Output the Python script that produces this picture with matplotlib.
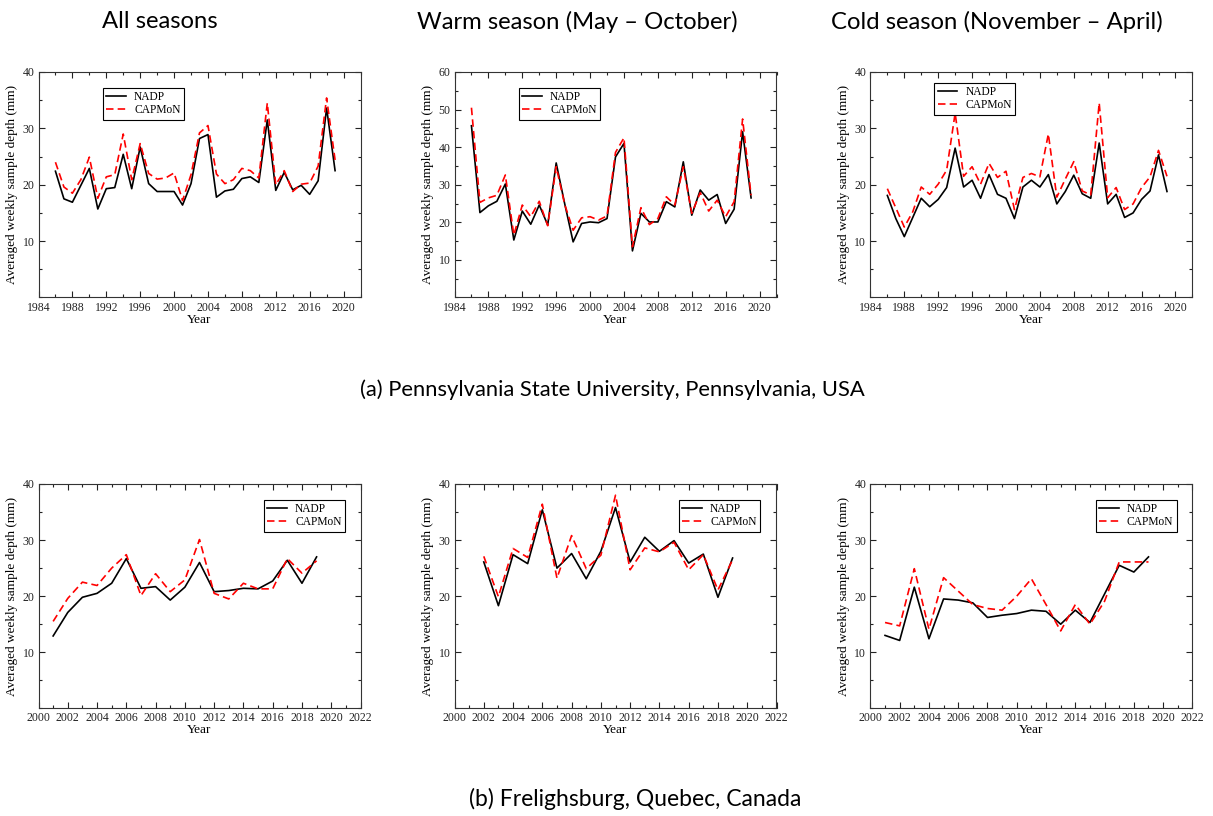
import matplotlib
matplotlib.use("Agg")
import matplotlib.pyplot as plt
from matplotlib.ticker import MultipleLocator

# ---------------- data ----------------
years_a = list(range(1986, 2020))
years_b_all = list(range(2001, 2020))
years_b_warm = list(range(2002, 2020))
years_b_cold = list(range(2001, 2020))

a_all_nadp = [22.4, 17.5, 16.9, 19.9, 22.9, 15.7, 19.3, 19.5, 25.4, 19.3, 26.7, 20.2,
              18.8, 18.8, 18.8, 16.4, 20.2, 28.2, 28.9, 17.8, 18.9, 19.2, 21.1, 21.4,
              20.4, 31.5, 19.0, 22.2, 19.1, 19.9, 18.3, 20.7, 33.6, 22.5]
a_all_capmon = [24.0, 19.6, 18.5, 20.9, 24.9, 17.6, 21.4, 21.8, 29.0, 20.9, 27.3, 22.0,
                21.0, 21.2, 22.1, 17.2, 21.8, 29.2, 30.5, 21.9, 20.2, 20.9, 22.9, 22.5,
                21.2, 34.5, 20.0, 22.5, 18.8, 20.1, 20.3, 23.3, 35.4, 24.4]

a_warm_nadp = [45.7, 22.6, 24.4, 25.6, 30.2, 15.3, 23.0, 19.5, 24.6, 19.3, 35.8, 25.0,
               14.8, 19.7, 20.1, 19.9, 21.0, 37.4, 41.0, 12.4, 22.4, 20.1, 20.1, 25.5,
               24.1, 36.1, 21.9, 28.6, 25.9, 27.4, 19.7, 23.5, 44.1, 26.5]
a_warm_capmon = [50.5, 25.3, 26.5, 27.2, 32.6, 16.6, 24.6, 21.5, 25.6, 19.1, 34.8, 24.8,
                 17.9, 21.2, 21.5, 20.6, 21.7, 38.6, 42.5, 13.5, 23.9, 19.4, 21.0, 26.8,
                 24.6, 34.8, 22.4, 27.9, 23.0, 25.9, 21.5, 25.5, 47.5, 27.2]

a_cold_nadp = [18.1, 14.0, 10.8, 14.2, 17.6, 16.1, 17.4, 19.5, 26.5, 19.6, 20.8, 17.6,
               21.8, 18.3, 17.6, 14.0, 19.6, 20.8, 19.6, 21.8, 16.6, 18.8, 21.7, 18.4,
               17.6, 27.4, 16.6, 18.3, 14.2, 15.0, 17.4, 18.9, 25.3, 18.8]
a_cold_capmon = [19.3, 15.9, 12.5, 15.2, 19.6, 18.3, 20.1, 22.6, 32.7, 21.5, 23.2, 20.1,
                 23.8, 21.3, 22.4, 15.6, 21.3, 22.0, 21.4, 29.0, 17.8, 21.0, 24.1, 18.9,
                 18.2, 34.5, 17.7, 19.5, 15.6, 16.6, 19.5, 21.4, 26.1, 21.5]

b_all_nadp = [12.9, 17.1, 19.8, 20.5, 22.3, 26.7, 21.4, 21.7, 19.3, 21.6, 26.0, 20.8,
              21.0, 21.4, 21.3, 22.7, 26.4, 22.3, 27.0]
b_all_capmon = [15.5, 19.6, 22.5, 21.9, 25.0, 27.4, 20.1, 24.0, 20.8, 22.9, 30.1, 20.5,
                19.5, 22.3, 21.3, 21.3, 26.7, 24.1, 26.3]

b_warm_nadp = [26.1, 18.3, 27.4, 25.8, 35.4, 25.0, 27.6, 23.1, 28.0, 35.8, 26.1, 30.5,
               28.0, 29.9, 25.9, 27.5, 19.8, 26.8]
b_warm_capmon = [27.1, 19.9, 28.5, 26.9, 36.4, 23.2, 30.8, 24.9, 27.3, 38.0, 24.7, 28.6,
                 27.9, 29.6, 24.7, 27.4, 21.1, 26.5]

b_cold_nadp = [13.0, 12.1, 21.6, 12.4, 19.5, 19.3, 18.8, 16.2, 16.6, 16.9, 17.5, 17.3,
               15.0, 17.5, 15.3, 20.4, 25.5, 24.3, 27.0]
b_cold_capmon = [15.3, 14.7, 24.9, 14.1, 23.3, 20.9, 18.5, 17.8, 17.5, 20.0, 23.1, 18.5,
                 13.8, 18.5, 15.0, 19.1, 26.1, 26.1, 26.1]

col_titles = ["All seasons", "Warm season (May \u2013 October)", "Cold season (November \u2013 April)"]
row_captions = ["(a) Pennsylvania State University, Pennsylvania, USA",
                "(b) Frelighsburg, Quebec, Canada"]
series_labels = ["NADP", "CAPMoN"]
ylabel = "Averaged weekly sample depth (mm)"
xlabel = "Year"

# ---------------- layout ----------------
W, H = 1213, 816
fig = plt.figure(figsize=(W / 100, H / 100), dpi=100)

serif = ["Liberation Serif", "DejaVu Serif"]
sans = ["Lato", "Open Sans", "DejaVu Sans"]

lefts = [38.5, 454.5, 870.4]
aw = 322
rows = [(72, 297.5), (484, 708.3)]

panels = [
    dict(x=years_a, n=a_all_nadp, c=a_all_capmon, ylim=(0, 40), xlim=(1984, 2022), xmaj=4, leg=(0.2, 0.93)),
    dict(x=years_a, n=a_warm_nadp, c=a_warm_capmon, ylim=(0, 60), xlim=(1984, 2022), xmaj=4, leg=(0.2, 0.93)),
    dict(x=years_a, n=a_cold_nadp, c=a_cold_capmon, ylim=(0, 40), xlim=(1984, 2022), xmaj=4, leg=(0.198, 0.952)),
    dict(x=years_b_all, n=b_all_nadp, c=b_all_capmon, ylim=(0, 40), xlim=(2000, 2022), xmaj=2, leg=(0.70, 0.93)),
    dict(x=years_b_warm, n=b_warm_nadp, c=b_warm_capmon, ylim=(0, 40), xlim=(2000, 2022), xmaj=2, leg=(0.697, 0.93)),
    dict(x=years_b_cold, n=b_cold_nadp, c=b_cold_capmon, ylim=(0, 40), xlim=(2000, 2022), xmaj=2, leg=(0.70, 0.93)),
]

for i, p in enumerate(panels):
    r, c = divmod(i, 3)
    top, bot = rows[r]
    ax = fig.add_axes([lefts[c] / W, 1 - bot / H, aw / W, (bot - top) / H])
    ax.plot(p["x"], p["n"], color="black", lw=1.2, label=series_labels[0])
    ax.plot(p["x"], p["c"], color="red", lw=1.2, ls=(0, (4.5, 2.5)), label=series_labels[1])
    ax.set_xlim(*p["xlim"])
    ax.set_ylim(*p["ylim"])
    ax.xaxis.set_major_locator(MultipleLocator(p["xmaj"]))
    ax.xaxis.set_minor_locator(MultipleLocator(p["xmaj"] / 2))
    ax.yaxis.set_minor_locator(MultipleLocator(5))
    ax.set_yticks(list(range(10, p["ylim"][1] + 1, 10)))
    ax.tick_params(which="both", direction="in", top=True, right=True, width=0.8,
                   labelsize=8.5, pad=3, colors="#222222")
    ax.tick_params(which="major", length=4)
    ax.tick_params(which="minor", length=2.5)
    for lab in ax.get_xticklabels() + ax.get_yticklabels():
        lab.set_family(serif)
    for s in ax.spines.values():
        s.set_linewidth(0.8)
        s.set_color("#333333")
    ax.set_xlabel(xlabel, family=serif, fontsize=9.5, labelpad=0)
    ax.set_ylabel(ylabel, family=serif, fontsize=9.5, labelpad=3)
    leg = ax.legend(loc="upper left", bbox_to_anchor=p["leg"], borderaxespad=0,
                    frameon=True, fancybox=False, edgecolor="black", framealpha=1,
                    prop={"family": serif, "size": 8.3}, handlelength=1.7,
                    handletextpad=0.7, borderpad=0.3, labelspacing=0.1)
    leg.get_frame().set_linewidth(0.8)

# column titles
for x, t in zip([160, 577, 997], col_titles):
    fig.text(x / W, 1 - 22 / H, t, ha="center", va="center", family=sans, fontsize=17.2)

fig.text(612 / W, 1 - 390 / H, row_captions[0], ha="center", va="center", family=sans, fontsize=15.8)
fig.text(635 / W, 1 - 799 / H, row_captions[1], ha="center", va="center", family=sans, fontsize=16.5)

fig.savefig("out.png", dpi=100, facecolor="white")
